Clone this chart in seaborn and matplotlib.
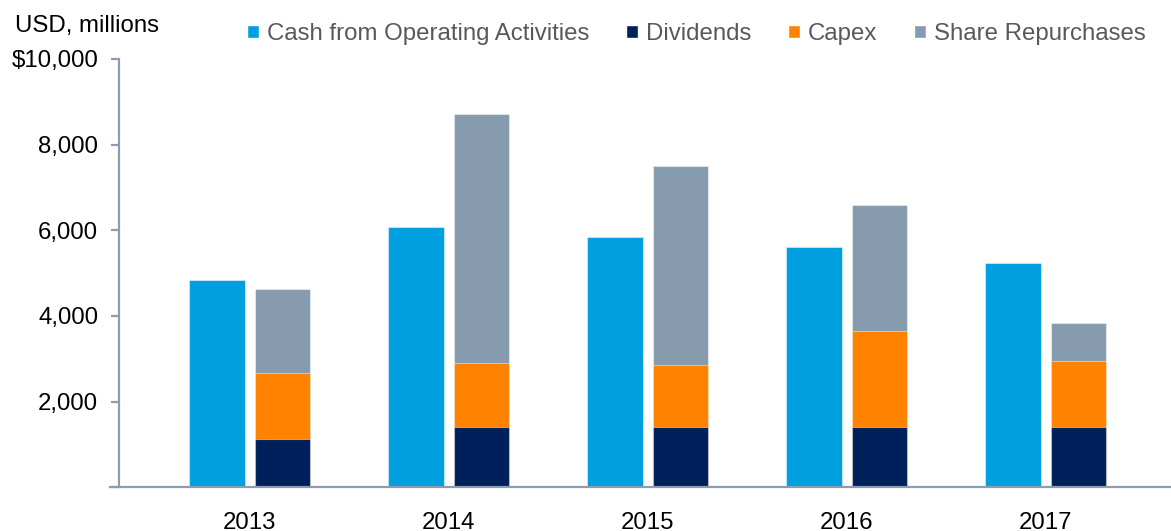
import matplotlib
matplotlib.use("Agg")
import matplotlib.pyplot as plt
from matplotlib.patches import Patch
from matplotlib.ticker import FuncFormatter
import seaborn as sns
import pandas as pd

# valores (USD, millones)
anios = ["2013", "2014", "2015", "2016", "2017"]
caja_operativa = [4850, 6070, 5840, 5610, 5230]
dividendos = [1135, 1415, 1410, 1410, 1410]
capex = [1530, 1485, 1445, 2245, 1535]
recompras = [1955, 5810, 4650, 2925, 890]

azul = "#009FDF"
marino = "#00205B"
naranja = "#FF8200"
gris = "#879BAF"
eje = "#8C9DB0"
tam = 17.3

sns.set_theme(style="white")
plt.rcParams["font.family"] = ["Liberation Sans", "DejaVu Sans"]

# acumulados para apilar las barras de usos
tope_capex = [d + c for d, c in zip(dividendos, capex)]
tope_total = [t + r for t, r in zip(tope_capex, recompras)]

tipos = ["caja", "usos"]
df_fondo = pd.DataFrame({
    "anio": anios + anios,
    "tipo": ["caja"] * 5 + ["usos"] * 5,
    "valor": caja_operativa + tope_total,
})
df_capex = pd.DataFrame({"anio": anios, "tipo": ["usos"] * 5, "valor": tope_capex})
df_div = pd.DataFrame({"anio": anios, "tipo": ["usos"] * 5, "valor": dividendos})

fig = plt.figure(figsize=(11.71, 5.31), dpi=100)
ax = fig.add_axes([119 / 1171, 43.7 / 531, 1 - 119 / 1171, 428.3 / 531])

borde = dict(edgecolor=(1, 1, 1, 0.45), linewidth=0.8)
opts = dict(x="anio", y="valor", hue="tipo", hue_order=tipos, order=anios,
            dodge=True, width=0.66, gap=0.15, legend=False, ax=ax, errorbar=None,
            saturation=1)
sns.barplot(data=df_fondo, palette={"caja": azul, "usos": gris}, **opts, **borde)
sns.barplot(data=df_capex, palette={"caja": azul, "usos": naranja}, **opts, **borde)
sns.barplot(data=df_div, palette={"caja": azul, "usos": marino}, **opts, **borde)

ax.set_ylim(0, 10000)
ax.set_xlim(-0.657, 4.63)
ax.set_yticks(range(0, 10001, 2000))
ax.yaxis.set_major_formatter(FuncFormatter(
    lambda v, p: "" if v == 0 else ("${:,.0f}".format(v) if v == 10000 else "{:,.0f}".format(v))))
ax.set_xlabel("")
ax.set_ylabel("")

for lado in ["top", "right"]:
    ax.spines[lado].set_visible(False)
for lado in ["left", "bottom"]:
    ax.spines[lado].set_color(eje)
    ax.spines[lado].set_linewidth(1.6)
ax.spines["bottom"].set_bounds(-0.7, 4.63)

ax.tick_params(axis="y", which="both", left=True, length=6, width=1.6, color=eje,
               labelsize=tam, labelcolor="black", pad=9)
ax.tick_params(axis="x", bottom=False, labelsize=tam, labelcolor="black", pad=12)

fig.text(15 / 1171, 1 - 32 / 531, "USD, millions", fontsize=tam, color="black", va="baseline")

manijas = [Patch(facecolor=azul), Patch(facecolor=marino),
           Patch(facecolor=naranja), Patch(facecolor=gris)]
nombres = ["Cash from Operating Activities", "Dividends", "Capex", "Share Repurchases"]
fig.legend(manijas, nombres, ncol=4, frameon=False, loc="center left",
           bbox_to_anchor=(247 / 1171, 1 - 34 / 531), fontsize=tam,
           handlelength=0.5, handleheight=0.5, handletextpad=0.35,
           columnspacing=1.5, borderpad=0, borderaxespad=0, labelcolor="#595959")

fig.savefig("out.png", dpi=100)
